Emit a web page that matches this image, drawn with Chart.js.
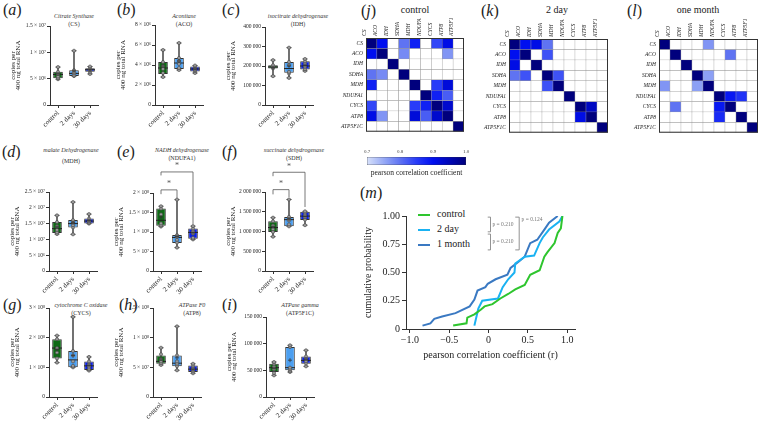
<!DOCTYPE html>
<html>
<head>
<meta charset="utf-8">
<script src="https://cdn.jsdelivr.net/npm/chart.js@4.4.1/dist/chart.umd.min.js"></script>
<style>
body { margin: 0; background: #fff; }
#fig { position: relative; width: 759px; height: 421px; overflow: hidden; background: #fff; font-family: 'Liberation Serif', serif; color: #222; }
#fig canvas { position: absolute; }
.lbl { position: absolute; font-size: 16px; line-height: 16px; }
.tt { position: absolute; width: 120px; text-align: center; font-size: 6px; color: #333; white-space: nowrap; }
.ht { position: absolute; width: 120px; text-align: center; font-size: 10px; line-height: 12px; }
.lg { position: absolute; left: 418px; font-size: 10px; line-height: 12px; white-space: nowrap; }
.lg span { display: inline-block; width: 12px; height: 2px; vertical-align: middle; margin-right: 7px; }
</style>
</head>
<body>
<div id="fig">
  <div class="lbl" style="left:3px;top:2px">(<i>a</i>)</div>
  <div class="lbl" style="left:117px;top:2px">(<i>b</i>)</div>
  <div class="lbl" style="left:222px;top:2px">(<i>c</i>)</div>
  <div class="lbl" style="left:2px;top:144px">(<i>d</i>)</div>
  <div class="lbl" style="left:117px;top:144px">(<i>e</i>)</div>
  <div class="lbl" style="left:222px;top:144px">(<i>f</i>)</div>
  <div class="lbl" style="left:3px;top:297px">(<i>g</i>)</div>
  <div class="lbl" style="left:119px;top:297px">(<i>h</i>)</div>
  <div class="lbl" style="left:222px;top:297px">(<i>i</i>)</div>
  <div class="lbl" style="left:361px;top:3px">(<i>j</i>)</div>
  <div class="lbl" style="left:481px;top:3px">(<i>k</i>)</div>
  <div class="lbl" style="left:627px;top:3px">(<i>l</i>)</div>
  <div class="lbl" style="left:360px;top:185px">(<i>m</i>)</div>

  <div class="tt" style="left:14px;top:12px;line-height:8px"><i>Citrate Synthase</i><br>(CS)</div>
  <div class="tt" style="left:124px;top:12px;line-height:8px"><i>Aconitase</i><br>(ACO)</div>
  <div class="tt" style="left:238px;top:12px;line-height:8px"><i>isocitrate dehydrogenase</i><br>(IDH)</div>
  <div class="tt" style="left:11px;top:145px;line-height:11px"><i>malate Dehydrogenase</i><br>(MDH)</div>
  <div class="tt" style="left:122px;top:146px;line-height:8px"><i>NADH dehydrogenase</i><br>(NDUFA1)</div>
  <div class="tt" style="left:234px;top:146px;line-height:8px"><i>succinate dehydrogenase</i><br>(SDH)</div>
  <div class="tt" style="left:21px;top:301px;line-height:8px"><i>cytochrome C oxidase</i><br>(CYCS)</div>
  <div class="tt" style="left:132px;top:301px;line-height:8px"><i>ATPase F0</i><br>(ATP8)</div>
  <div class="tt" style="left:240px;top:301px;line-height:8px"><i>ATPase gamma</i><br>(ATP5F1C)</div>

  <div class="ht" style="left:355px;top:4px">control</div>
  <div class="ht" style="left:497px;top:4px">2 day</div>
  <div class="ht" style="left:638px;top:4px">one month</div>

  <div class="lg" style="top:208px"><span style="background:#2ec52e"></span>control</div>
  <div class="lg" style="top:223px"><span style="background:#1ab2f2"></span>2 day</div>
  <div class="lg" style="top:238px"><span style="background:#3a79c2"></span>1 month</div>
</div>

<script>
Chart.defaults.font.family = "'Liberation Serif', 'Times New Roman', serif";
Chart.defaults.color = '#333';
Chart.defaults.animation = false;
Chart.defaults.responsive = false;
Chart.defaults.plugins.legend.display = false;
Chart.defaults.plugins.tooltip.enabled = false;

const groups = ['control', '2 days', '30 days'];
const groupColors = ['#0f6a16', '#4c9ff0', '#0c22e6'];

// box stats per group: [min, q1, median, q3, max, mean]
const csStats = [[4.9e6, 5.1e6, 5.8e6, 6.3e6, 7.2e6, 5.9e6], [5.5e6, 5.5e6, 6.0e6, 6.6e6, 1.03e7, 6.5e6], [5.9e6, 6.3e6, 6.7e6, 7.0e6, 7.3e6, 6.7e6]];
const csPts = [[4.9e6, 5.1e6, 5.4e6, 5.9e6, 6.3e6, 7.2e6], [5.5e6, 5.6e6, 6.0e6, 6.2e6, 6.6e6, 1.03e7], [5.9e6, 6.3e6, 6.6e6, 6.8e6, 7.0e6, 7.3e6]];
const csTicks = [0, 5e6, 1e7, 1.5e7];
const csLabels = ['0', '5 × 10⁶', '1 × 10⁷', '1.5 × 10⁷'];

const acoStats = [[2.8e6, 3.1e6, 3.7e6, 4.3e6, 5.5e6, 3.9e6], [3.5e6, 3.6e6, 4.2e6, 4.7e6, 6.2e6, 4.4e6], [3.2e6, 3.35e6, 3.6e6, 3.85e6, 3.95e6, 3.6e6]];
const acoPts = [[2.8e6, 3.2e6, 3.6e6, 3.9e6, 4.3e6, 5.5e6], [3.5e6, 3.7e6, 4.1e6, 4.4e6, 4.7e6, 6.2e6], [3.2e6, 3.4e6, 3.5e6, 3.7e6, 3.85e6, 3.95e6]];
const acoTicks = [0, 2e6, 4e6, 6e6, 8e6];
const acoLabels = ['0', '2 × 10⁶', '4 × 10⁶', '6 × 10⁶', '8 × 10⁶'];

const idhStats = [[148000, 187000, 195000, 204000, 230000, 192000], [139000, 165000, 187000, 221000, 294000, 200000], [175000, 182000, 200000, 224000, 236000, 203000]];
const idhPts = [[148000, 188000, 192000, 196000, 204000, 230000], [139000, 162000, 170000, 205000, 221000, 294000], [175000, 184000, 196000, 212000, 224000, 236000]];
const idhTicks = [0, 100000, 200000, 300000, 400000];
const idhLabels = ['0', '100 000', '200 000', '300 000', '400 000'];

const mdhStats = [[1.17e7, 1.2e7, 1.34e7, 1.55e7, 1.76e7, 1.4e7], [1.16e7, 1.38e7, 1.5e7, 1.61e7, 2.18e7, 1.53e7], [1.5e7, 1.5e7, 1.58e7, 1.66e7, 1.8e7, 1.6e7]];
const mdhPts = [[1.17e7, 1.22e7, 1.3e7, 1.42e7, 1.55e7, 1.76e7], [1.16e7, 1.38e7, 1.45e7, 1.55e7, 1.61e7, 2.18e7], [1.5e7, 1.52e7, 1.56e7, 1.6e7, 1.66e7, 1.8e7]];
const mdhTicks = [0, 5e6, 1e7, 1.5e7, 2e7, 2.5e7];
const mdhLabels = ['0', '5 × 10⁶', '1 × 10⁷', '1.5 × 10⁷', '2 × 10⁷', '2.5 × 10⁷'];

const ndStats = [[1.14e8, 1.16e8, 1.3e8, 1.6e8, 1.66e8, 1.38e8], [6e7, 7.2e7, 8.6e7, 9.2e7, 1.83e8, 8.9e7], [8.1e7, 8.3e7, 9.9e7, 1.09e8, 1.15e8, 9.8e7]];
const ndPts = [[1.14e8, 1.17e8, 1.22e8, 1.45e8, 1.6e8, 1.66e8], [6e7, 7.3e7, 8.0e7, 8.8e7, 9.2e7, 1.83e8], [8.1e7, 8.5e7, 9.6e7, 1.02e8, 1.09e8, 1.15e8]];
const ndTicks = [0, 5e7, 1e8, 1.5e8, 2e8];
const ndLabels = ['0', '5 × 10⁷', '1 × 10⁸', '1.5 × 10⁸', '2 × 10⁸'];

const sdhStats = [[8.7e5, 9.9e5, 1.1e6, 1.26e6, 1.35e6, 1.12e6], [1.13e6, 1.13e6, 1.3e6, 1.37e6, 1.81e6, 1.32e6], [1.16e6, 1.29e6, 1.39e6, 1.5e6, 1.51e6, 1.38e6]];
const sdhPts = [[8.7e5, 9.9e5, 1.06e6, 1.15e6, 1.26e6, 1.35e6], [1.13e6, 1.18e6, 1.28e6, 1.33e6, 1.37e6, 1.81e6], [1.16e6, 1.3e6, 1.36e6, 1.42e6, 1.48e6, 1.51e6]];
const sdhTicks = [0, 500000, 1000000, 1500000, 2000000];
const sdhLabels = ['0', '500 000', '1 000 000', '1 500 000', '2 000 000'];

const cycsStats = [[1.16e8, 1.3e8, 1.65e8, 1.95e8, 2.07e8, 1.6e8], [1.0e8, 1.0e8, 1.25e8, 1.55e8, 2.7e8, 1.4e8], [8.9e7, 9.1e7, 1.05e8, 1.2e8, 1.35e8, 1.07e8]];
const cycsPts = [[1.16e8, 1.3e8, 1.5e8, 1.65e8, 1.95e8, 2.07e8], [1.0e8, 1.05e8, 1.2e8, 1.4e8, 1.55e8, 2.7e8], [8.9e7, 9.5e7, 1.02e8, 1.1e8, 1.2e8, 1.35e8]];
const cycsTicks = [0, 1e8, 2e8, 3e8];
const cycsLabels = ['0', '1 × 10⁸', '2 × 10⁸', '3 × 10⁸'];

const atp8Stats = [[5.4e7, 5.6e7, 6.0e7, 7.0e7, 8.3e7, 6.4e7], [4.5e7, 5.2e7, 5.7e7, 7.0e7, 1.19e8, 6.6e7], [4.0e7, 4.2e7, 4.7e7, 5.3e7, 5.6e7, 4.7e7]];
const atp8Pts = [[5.4e7, 5.7e7, 6.0e7, 6.4e7, 7.2e7, 8.3e7], [4.5e7, 5.2e7, 5.6e7, 6.0e7, 7.0e7, 1.19e8], [4.0e7, 4.3e7, 4.6e7, 4.9e7, 5.3e7, 5.6e7]];
const atp8Ticks = [0, 5e7, 1e8, 1.5e8];
const atp8Labels = ['0', '5 × 10⁷', '1 × 10⁸', '1.5 × 10⁸'];

const atp5Stats = [[40600, 47000, 55000, 62500, 65600, 54000], [46900, 50000, 55000, 93700, 96900, 69000], [57500, 62500, 68700, 76000, 87500, 71000]];
const atp5Pts = [[40600, 45000, 52000, 57000, 62500, 65600], [46900, 49000, 52000, 55000, 93700, 96900], [57500, 63000, 67000, 72000, 76000, 87500]];
const atp5Ticks = [0, 50000, 100000, 150000];
const atp5Labels = ['0', '50 000', '100 000', '150 000'];

// correlation matrices (blank = below 0.7)
const genes = ['CS', 'ACO', 'IDH', 'SDHA', 'MDH', 'NDUFA1', 'CYCS', 'ATP8', 'ATP5F1C'];
const corrControl = [
  [1, .90, 0, .80, .88, 0, .84, .91, 0],
  [.90, 1, 0, .78, 0, 0, 0, .77, 0],
  [0, 0, 1, 0, 0, 0, 0, 0, 0],
  [.80, .78, 0, 1, 0, 0, 0, 0, 0],
  [.88, 0, 0, 0, 1, 0, .85, .92, 0],
  [0, 0, 0, 0, 0, 1, .88, .82, 0],
  [.84, 0, 0, 0, .85, .88, 1, .93, 0],
  [.91, .77, 0, 0, .92, .82, .93, 1, 0],
  [0, 0, 0, 0, 0, 0, 0, 0, 1]
];
const corr2day = [
  [1, .90, .91, .80, 0, 0, 0, 0, 0],
  [.90, 1, 0, .83, 0, 0, 0, 0, 0],
  [.91, 0, 1, 0, 0, 0, 0, 0, 0],
  [.80, .83, 0, 1, .83, 0, 0, 0, 0],
  [0, 0, 0, .83, 1, 0, 0, 0, 0],
  [0, 0, 0, 0, 0, 1, 0, 0, 0],
  [0, 0, 0, 0, 0, 0, 1, .94, 0],
  [0, 0, 0, 0, 0, 0, .91, 1, 0],
  [0, 0, 0, 0, 0, 0, 0, 0, 1]
];
const corrMonth = [
  [1, 0, 0, 0, .77, 0, 0, 0, 0],
  [0, 1, 0, 0, 0, 0, .80, 0, 0],
  [0, 0, 1, 0, 0, 0, 0, 0, 0],
  [0, 0, 0, 1, .76, 0, 0, 0, 0],
  [.77, 0, 0, .76, 1, 0, 0, 0, 0],
  [0, 0, 0, 0, 0, 1, .89, .86, 0],
  [0, .80, 0, 0, 0, .89, 1, 0, 0],
  [0, 0, 0, 0, 0, .87, 0, 1, 0],
  [0, 0, 0, 0, 0, 0, 0, 0, 1]
];
const cbTicks = [0.7, 0.8, 0.9, 1.0];

// cumulative distributions of pairwise r
const ctrlR = [-0.45, -0.28, -0.27, -0.18, -0.10, -0.05, 0.05, 0.15, 0.25, 0.34, 0.46, 0.53, 0.65, 0.71, 0.75, 0.84, 0.88, 0.92, 0.94];
const ctrlP = [0.03, 0.05, 0.10, 0.13, 0.17, 0.20, 0.22, 0.27, 0.31, 0.35, 0.39, 0.48, 0.52, 0.64, 0.68, 0.76, 0.85, 0.89, 1.00];
const day2R = [-0.18, -0.13, -0.08, 0.12, 0.18, 0.25, 0.33, 0.34, 0.46, 0.58, 0.65, 0.69, 0.77, 0.90, 0.94];
const day2P = [0.03, 0.18, 0.25, 0.27, 0.37, 0.44, 0.50, 0.58, 0.64, 0.65, 0.76, 0.81, 0.88, 0.95, 1.00];
const monthR = [-0.84, -0.74, -0.69, -0.59, -0.42, -0.24, -0.18, -0.14, -0.04, -0.01, 0.09, 0.24, 0.28, 0.39, 0.46, 0.53, 0.62, 0.71, 0.77, 0.88];
const monthP = [0.03, 0.05, 0.09, 0.11, 0.14, 0.20, 0.26, 0.34, 0.37, 0.40, 0.44, 0.48, 0.54, 0.60, 0.64, 0.76, 0.79, 0.88, 0.94, 1.00];
const rTicks = [-1, -0.5, 0, 0.5, 1];
const rLabels = ['−1.0', '−0.5', '0', '0.5', '1.0'];
const pTicks = [0, 0.25, 0.5, 0.75, 1];
const pLabels = ['0', '0.25', '0.50', '0.75', '1.00'];

const fig = document.getElementById('fig');

// lines and text placed in data coordinates
function notes(spec) {
  return {
    id: 'notes',
    afterDatasetsDraw(chart) {
      const x = chart.scales.x, y = chart.scales.y, ctx = chart.ctx;
      ctx.save();
      ctx.strokeStyle = spec.color;
      ctx.fillStyle = spec.color;
      ctx.lineWidth = spec.width;
      spec.lines.forEach(p => {
        ctx.beginPath();
        for (let k = 0; k < p.length; k += 2) {
          const px = x.getPixelForValue(p[k]), py = y.getPixelForValue(p[k + 1]);
          if (k === 0) ctx.moveTo(px, py); else ctx.lineTo(px, py);
        }
        ctx.stroke();
      });
      ctx.font = spec.font;
      ctx.textBaseline = 'middle';
      spec.texts.forEach(t => {
        ctx.textAlign = t.align || 'center';
        ctx.fillText(t.text, x.getPixelForValue(t.x), y.getPixelForValue(t.y));
      });
      ctx.restore();
    }
  };
}

const framePlugin = {
  id: 'frame',
  afterDatasetsDraw(chart) {
    const a = chart.chartArea, c = chart.ctx;
    c.save();
    c.strokeStyle = '#333';
    c.lineWidth = 1;
    c.strokeRect(a.left + 0.5, a.top + 0.5, a.right - a.left - 1, a.bottom - a.top - 1);
    c.restore();
  }
};

function addCanvas(left, top, w, h) {
  const cv = document.createElement('canvas');
  cv.width = w; cv.height = h;
  cv.style.left = left + 'px';
  cv.style.top = top + 'px';
  fig.appendChild(cv);
  return cv;
}

const axisGrid = { display: true, drawOnChartArea: false, drawTicks: true, tickLength: 3, color: '#333', offset: false };

function boxPanel(p) {
  const pad = p.pad || 8;
  const cv = addCanvas(p.ax - 40, p.top - pad, 94, pad + (p.zero - p.top) + 28);
  new Chart(cv, {
    type: 'bar',
    data: {
      labels: groups,
      datasets: [
        { data: p.stats.map(s => [s[0], s[4]]), backgroundColor: '#555', barThickness: 1, grouped: false, order: 6 },
        { data: p.stats.map(s => [s[1], s[3]]), backgroundColor: groupColors, borderColor: '#333', borderWidth: 1,
          borderSkipped: false, barPercentage: 0.6, categoryPercentage: 1, grouped: false, order: 5 },
        { type: 'line', data: p.stats.flatMap((s, i) => [{ x: groups[i], y: s[0] }, { x: groups[i], y: s[4] }]),
          showLine: false, pointStyle: 'line', pointRadius: 2.5, pointBorderColor: '#333', pointBorderWidth: 1, order: 4 },
        { type: 'line', data: p.stats.map((s, i) => ({ x: groups[i], y: s[2] })),
          showLine: false, pointStyle: 'line', pointRadius: 5, pointBorderColor: '#222', pointBorderWidth: 1, order: 3 },
        { type: 'line', data: p.pts.flatMap((v, i) => v.map(y => ({ x: groups[i], y }))),
          showLine: false, pointRadius: 1.6, pointBackgroundColor: '#9a9a9a', pointBorderColor: '#444', pointBorderWidth: 0.6, order: 2 },
        { type: 'line', data: p.stats.map((s, i) => ({ x: groups[i], y: s[5] })),
          showLine: false, pointStyle: 'cross', pointRadius: 2, pointBorderColor: '#333', pointBorderWidth: 0.8, order: 1 }
      ]
    },
    options: {
      layout: { padding: { top: pad, right: 4, left: 0, bottom: 0 } },
      scales: {
        x: {
          offset: true,
          grid: axisGrid,
          border: { color: '#333', width: 1 },
          ticks: { minRotation: 45, maxRotation: 45, autoSkip: false, padding: 1, color: '#222', font: { size: 7 } },
          afterFit: s => { s.height = 28; }
        },
        y: {
          min: 0,
          max: p.ticks[p.ticks.length - 1],
          grid: axisGrid,
          border: { color: '#333', width: 1 },
          afterBuildTicks: s => { s.ticks = p.ticks.map(v => ({ value: v })); },
          ticks: { callback: (v, i) => p.labels[i], autoSkip: false, padding: 1, color: '#222', font: { size: 5.5 } },
          title: { display: true, text: ['copies per', '400 ng total RNA'], color: '#222', font: { size: 7, lineHeight: 0.8 }, padding: 0 },
          afterFit: s => { s.width = 40; }
        }
      }
    },
    plugins: p.sig ? [notes(p.sig)] : []
  });
}

const sigFont = '8px "Liberation Serif"';
boxPanel({ stats: csStats, pts: csPts, ticks: csTicks, labels: csLabels, ax: 50, top: 26, zero: 105 });
boxPanel({ stats: acoStats, pts: acoPts, ticks: acoTicks, labels: acoLabels, ax: 155, top: 25, zero: 105 });
boxPanel({ stats: idhStats, pts: idhPts, ticks: idhTicks, labels: idhLabels, ax: 265, top: 27, zero: 105 });
boxPanel({ stats: mdhStats, pts: mdhPts, ticks: mdhTicks, labels: mdhLabels, ax: 49, top: 192, zero: 271 });
boxPanel({ stats: ndStats, pts: ndPts, ticks: ndTicks, labels: ndLabels, ax: 153, top: 193, zero: 271, pad: 32,
  sig: { color: '#555', width: 0.8, font: sigFont,
    lines: [[0, 1.97e8, 0, 2.08e8, 1, 2.08e8, 1, 1.87e8], [0, 2.45e8, 0, 2.54e8, 2, 2.54e8, 2, 1.2e8]],
    texts: [{ x: 0.5, y: 2.24e8, text: '*' }, { x: 1, y: 2.7e8, text: '*' }] } });
boxPanel({ stats: sdhStats, pts: sdhPts, ticks: sdhTicks, labels: sdhLabels, ax: 265, top: 192, zero: 271, pad: 32,
  sig: { color: '#555', width: 0.8, font: sigFont,
    lines: [[0, 1.94e6, 0, 2.06e6, 1, 2.06e6, 1, 1.87e6], [0, 2.4e6, 0, 2.5e6, 2, 2.5e6, 2, 1.62e6]],
    texts: [{ x: 0.5, y: 2.21e6, text: '*' }, { x: 1, y: 2.64e6, text: '*' }] } });
boxPanel({ stats: cycsStats, pts: cycsPts, ticks: cycsTicks, labels: cycsLabels, ax: 49, top: 308, zero: 397 });
boxPanel({ stats: atp8Stats, pts: atp8Pts, ticks: atp8Ticks, labels: atp8Labels, ax: 153, top: 308, zero: 397 });
boxPanel({ stats: atp5Stats, pts: atp5Pts, ticks: atp5Ticks, labels: atp5Labels, ax: 266, top: 317, zero: 397 });

// colour scale for correlation cells
const cStops = [[0.70, [215, 225, 250]], [0.76, [140, 160, 245]], [0.80, [95, 115, 242]], [0.85, [40, 60, 248]], [0.90, [0, 15, 240]], [1.00, [0, 0, 125]]];
function heatColor(v) {
  if (!v || v < 0.7) return '#ffffff';
  for (let i = 1; i < cStops.length; i++) {
    if (v <= cStops[i][0]) {
      const [a, ca] = cStops[i - 1], [b, cb] = cStops[i];
      const t = (v - a) / (b - a);
      return 'rgb(' + ca.map((c, k) => Math.round(c + (cb[k] - c) * t)).join(',') + ')';
    }
  }
  return 'rgb(0,0,125)';
}

const cellFont = { size: 5.5, style: 'italic' };
function heatmap(left, top, w, h, mat) {
  const cv = addCanvas(left, top, w, h);
  new Chart(cv, {
    type: 'bar',
    data: {
      labels: genes,
      datasets: genes.map((g, i) => ({
        label: g,
        data: mat[i].map(() => 1),
        backgroundColor: mat[i].map(heatColor),
        borderColor: '#9a9a9a',
        borderWidth: 0.5,
        borderSkipped: false,
        barPercentage: 1,
        categoryPercentage: 1
      }))
    },
    options: {
      layout: { padding: 0 },
      scales: {
        x: {
          position: 'top', stacked: true,
          grid: { display: false, drawTicks: false }, border: { display: false },
          ticks: { minRotation: 90, maxRotation: 90, autoSkip: false, padding: 2, color: '#222', font: cellFont },
          afterFit: s => { s.height = 20; }
        },
        y: {
          stacked: true, reverse: true, min: 0, max: genes.length,
          grid: { display: false, drawTicks: false }, border: { display: false },
          afterBuildTicks: s => { s.ticks = genes.map((g, i) => ({ value: i + 0.5 })); },
          ticks: { callback: (v, i) => genes[i], autoSkip: false, padding: 3, color: '#222', font: cellFont },
          afterFit: s => { s.width = 36; }
        }
      }
    },
    plugins: [framePlugin]
  });
}
heatmap(330, 18, 134, 120, corrControl);
heatmap(473, 19, 135, 120, corr2day);
heatmap(623, 19, 135, 120, corrMonth);

// colour bar
new Chart(addCanvas(359, 145, 115, 33), {
  type: 'bar',
  data: {
    labels: [''],
    datasets: [{
      data: [[cbTicks[0], cbTicks[cbTicks.length - 1]]],
      backgroundColor: ctx => {
        const a = ctx.chart.chartArea;
        if (!a) return '#fff';
        const g = ctx.chart.ctx.createLinearGradient(a.left, 0, a.right, 0);
        cStops.forEach(([v, c]) => g.addColorStop(Math.min(1, Math.max(0, (v - 0.7) / 0.3)), 'rgb(' + c.join(',') + ')'));
        return g;
      },
      borderColor: '#333', borderWidth: 0.6, borderSkipped: false,
      barPercentage: 1, categoryPercentage: 1
    }]
  },
  options: {
    indexAxis: 'y',
    layout: { padding: { left: 8, right: 8, top: 0, bottom: 0 } },
    plugins: {
      title: { display: true, position: 'bottom', text: 'pearson correlation coefficient', color: '#222',
        font: { size: 7.5, weight: 'normal', lineHeight: 1.2 }, padding: { top: 4, bottom: 0 } }
    },
    scales: {
      x: {
        position: 'top', min: 0.7, max: 1.0,
        grid: { display: false, drawTicks: false }, border: { display: false },
        afterBuildTicks: s => { s.ticks = cbTicks.map(v => ({ value: v })); },
        ticks: { callback: v => v.toFixed(1), padding: 2, color: '#444', font: { size: 5 } },
        afterFit: s => { s.height = 12; }
      },
      y: { display: false }
    }
  }
});

// cumulative probability
new Chart(addCanvas(360, 200, 220, 161), {
  type: 'line',
  data: {
    datasets: [
      { label: 'control', data: ctrlR.map((r, i) => ({ x: r, y: ctrlP[i] })), borderColor: '#2ec52e' },
      { label: '2 day', data: day2R.map((r, i) => ({ x: r, y: day2P[i] })), borderColor: '#1ab2f2' },
      { label: '1 month', data: monthR.map((r, i) => ({ x: r, y: monthP[i] })), borderColor: '#3a79c2' }
    ]
  },
  options: {
    layout: { padding: { top: 16, right: 5, left: 0, bottom: 0 } },
    elements: { point: { radius: 0 }, line: { borderWidth: 2, tension: 0 } },
    scales: {
      x: {
        type: 'linear', min: -1.05, max: 1.1,
        grid: { display: true, drawOnChartArea: false, tickLength: 4, color: '#333' },
        border: { color: '#333', width: 1 },
        afterBuildTicks: s => { s.ticks = rTicks.map(v => ({ value: v })); },
        ticks: { callback: (v, i) => rLabels[i], padding: 1, color: '#222', font: { size: 10 } },
        title: { display: true, text: 'pearson correlation coefficient (r)', color: '#222', font: { size: 10 }, padding: 0 },
        afterFit: s => { s.height = 32; }
      },
      y: {
        min: 0, max: 1,
        grid: { display: true, drawOnChartArea: false, tickLength: 4, color: '#333' },
        border: { color: '#333', width: 1 },
        afterBuildTicks: s => { s.ticks = pTicks.map(v => ({ value: v })); },
        ticks: { callback: (v, i) => pLabels[i], padding: 2, color: '#222', font: { size: 10 } },
        title: { display: true, text: 'cumulative probability', color: '#222', font: { size: 10 }, padding: { top: 2, bottom: 0 } },
        afterFit: s => { s.width = 46; }
      }
    }
  },
  plugins: [notes({
    color: '#777', width: 0.8, font: '5.5px "Liberation Serif"',
    lines: [[-0.01, 0.99, 0.025, 0.99, 0.025, 0.86, -0.01, 0.86],
            [-0.01, 0.84, 0.025, 0.84, 0.025, 0.70, -0.01, 0.70],
            [0.34, 0.99, 0.39, 0.99, 0.39, 0.70, 0.34, 0.70]],
    texts: [{ x: 0.05, y: 0.925, text: 'p = 0.210', align: 'left' },
            { x: 0.05, y: 0.77, text: 'p = 0.210', align: 'left' },
            { x: 0.42, y: 0.965, text: 'p = 0.124', align: 'left' }]
  })]
});
</script>
</body>
</html>
